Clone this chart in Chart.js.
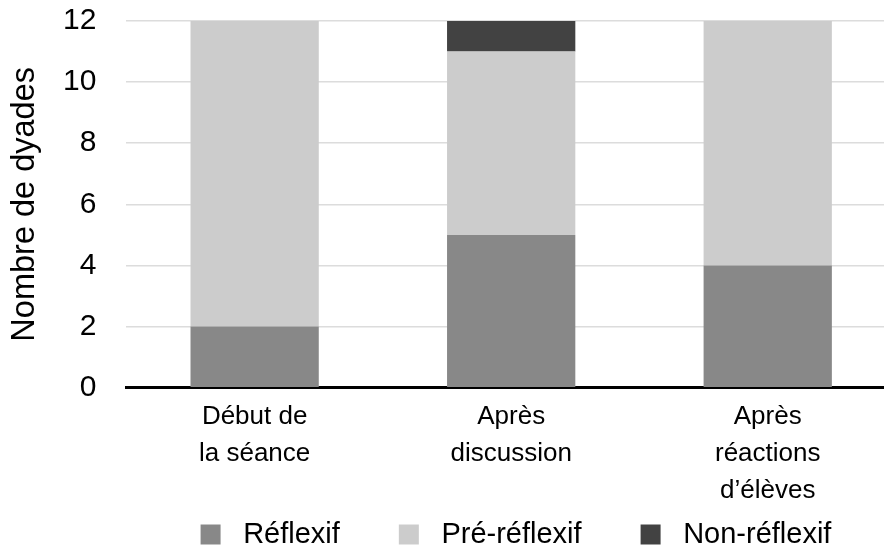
<!DOCTYPE html>
<html lang="fr">
<head>
<meta charset="utf-8">
<script src="https://cdn.jsdelivr.net/npm/chart.js@4.4.1/dist/chart.umd.min.js"></script>
<style>
  html, body { margin: 0; padding: 0; background: #fff; overflow: hidden; }
  #cadre { position: absolute; left: 0; top: -27px; width: 896px; height: 645px; }
</style>
</head>
<body>
<div id="cadre"><canvas id="graphique"></canvas></div>
<script>
const categories = [
  ["Début de", "la séance"],
  ["Après", "discussion"],
  ["Après", "réactions", "d’élèves"]
];
const reflexif = [2, 5, 4];
const preReflexif = [10, 6, 8];
const nonReflexif = [0, 1, 0];
const ticksY = [0, 2, 4, 6, 8, 10, 12];

const police = "'Liberation Sans', Arial, Helvetica, sans-serif";
const espaceLegende = 59;

// la légende est centrée sur la zone du graphique, et remontée
// pour compenser le grand espacement entre les éléments
const decalerLegende = {
  id: "decalerLegende",
  afterLayout(chart) {
    const l = chart.legend;
    if (!l) return;
    l.left += 65;
    l.right += 65;
    l.top -= espaceLegende;
    l.bottom -= espaceLegende;
  }
};

Chart.defaults.font.family = police;
Chart.defaults.color = "#000";

new Chart(document.getElementById("graphique"), {
  type: "bar",
  data: {
    labels: categories,
    datasets: [
      { label: "Réflexif", data: reflexif, backgroundColor: "#888888" },
      { label: "Pré-réflexif", data: preReflexif, backgroundColor: "#cccccc" },
      { label: "Non-réflexif", data: nonReflexif, backgroundColor: "#424242" }
    ]
  },
  options: {
    responsive: true,
    maintainAspectRatio: false,
    animation: false,
    layout: { padding: { left: 6, top: 20, right: 0, bottom: 0 } },
    datasets: { bar: { barPercentage: 0.5, categoryPercentage: 1 } },
    scales: {
      x: {
        stacked: true,
        grid: { display: false, drawTicks: false },
        border: { display: true, color: "#000", width: 3 },
        ticks: {
          font: { size: 26, lineHeight: 1.44 },
          padding: 10,
          maxRotation: 0,
          autoSkip: false
        }
      },
      y: {
        stacked: true,
        min: 0,
        max: 12,
        afterBuildTicks: (axis) => {
          axis.ticks = ticksY.map((v) => ({ value: v }));
        },
        grid: { color: "#dcdcdc", lineWidth: 1.5, drawTicks: false },
        border: { display: false },
        ticks: { font: { size: 30 }, padding: 30 },
        title: {
          display: true,
          text: "Nombre de dyades",
          font: { size: 32.5 },
          padding: { top: 0, bottom: -12 }
        }
      }
    },
    plugins: {
      tooltip: { enabled: false },
      legend: {
        position: "bottom",
        labels: {
          font: { size: 29 },
          boxWidth: 20,
          boxHeight: 20,
          padding: espaceLegende,
          generateLabels: (chart) =>
            Chart.defaults.plugins.legend.labels.generateLabels(chart).map((item) => {
              item.text = " " + item.text;
              item.lineWidth = 0;
              return item;
            })
        }
      }
    }
  },
  plugins: [decalerLegende]
});
</script>
</body>
</html>
